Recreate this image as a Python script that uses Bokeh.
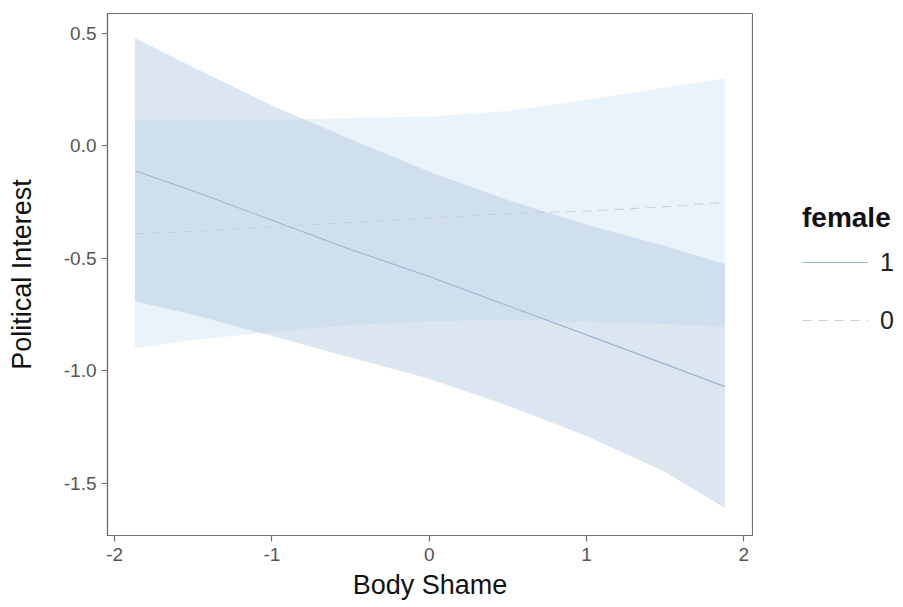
from bokeh.plotting import figure
from bokeh.layouts import row
from bokeh.models import Range1d, FixedTicker, PrintfTickFormatter, Legend, LegendItem
from bokeh.embed import file_html
from bokeh.resources import INLINE

# ---- data ----
body_shame = [-1.87, -1.5, -1.0, -0.5, 0.0, 0.5, 1.0, 1.5, 1.88]

fit_female1 = [-0.11, -0.20, -0.33, -0.46, -0.58, -0.71, -0.84, -0.97, -1.07]
upper_female1 = [0.48, 0.35, 0.18, 0.03, -0.115, -0.24, -0.35, -0.445, -0.525]
lower_female1 = [-0.69, -0.75, -0.845, -0.94, -1.035, -1.155, -1.29, -1.45, -1.61]

fit_female0 = [-0.39, -0.38, -0.36, -0.34, -0.32, -0.30, -0.29, -0.27, -0.25]
upper_female0 = [0.115, 0.115, 0.117, 0.124, 0.131, 0.155, 0.205, 0.26, 0.30]
lower_female0 = [-0.90, -0.863, -0.827, -0.796, -0.779, -0.774, -0.781, -0.792, -0.805]

x_ticks = [-2, -1, 0, 1, 2]
y_ticks = [-1.5, -1.0, -0.5, 0.0, 0.5]
legend_title = "female"
legend_labels = ["1", "0"]

FONT = "Liberation Sans"
GRAY = "#707070"
C1_LINE = "#9bb6d2"
C0_LINE = "#c6d1dc"

p = figure(width=753, height=607, output_backend="svg", toolbar_location=None,
           x_range=Range1d(-2.045, 2.055), y_range=Range1d(-1.732, 0.589),
           min_border_left=107, min_border_right=1, min_border_top=13,
           min_border_bottom=72)

p.background_fill_color = "white"
p.border_fill_color = "white"
p.outline_line_color = GRAY
p.outline_line_width = 1.2
p.xgrid.visible = False
p.ygrid.visible = False

# bands
p.varea(x=body_shame, y1=lower_female0, y2=upper_female0,
        fill_color="#cde1f2", fill_alpha=0.4)
p.varea(x=body_shame, y1=lower_female1, y2=upper_female1,
        fill_color="#a7c0dc", fill_alpha=0.4)

# fit lines
p.line(body_shame, fit_female1, line_color=C1_LINE, line_width=1.1)
p.line(body_shame, fit_female0, line_color=C0_LINE, line_width=1.1,
       line_dash="9 7")

# axes
for ax in (p.xaxis[0], p.yaxis[0]):
    ax.axis_line_color = GRAY
    ax.axis_line_width = 1.2
    ax.major_tick_line_color = GRAY
    ax.major_tick_line_width = 1.2
    ax.major_tick_out = 6
    ax.major_tick_in = 0
    ax.minor_tick_line_color = None
    ax.major_label_text_font = FONT
    ax.major_label_text_font_size = "19px"
    ax.major_label_text_color = "#555555"
    ax.axis_label_text_font = FONT
    ax.axis_label_text_font_size = "27px"
    ax.axis_label_text_font_style = "normal"
    ax.axis_label_text_color = "#111111"

p.xaxis[0].ticker = FixedTicker(ticks=x_ticks)
p.xaxis[0].formatter = PrintfTickFormatter(format="%d")
p.xaxis[0].axis_label = "Body Shame"
p.xaxis[0].major_label_standoff = 6
p.xaxis[0].axis_label_standoff = 6

p.yaxis[0].ticker = FixedTicker(ticks=y_ticks)
p.yaxis[0].formatter = PrintfTickFormatter(format="%.1f")
p.yaxis[0].axis_label = "Political Interest"
p.yaxis[0].major_label_standoff = 5
p.yaxis[0].axis_label_standoff = 24

# ---- legend panel (separate figure on the right) ----
q = figure(width=150, height=607, output_backend="svg", toolbar_location=None,
           x_range=Range1d(0, 1), y_range=Range1d(0, 1),
           min_border_left=0, min_border_right=0, min_border_top=0,
           min_border_bottom=0)
q.axis.visible = False
q.xgrid.visible = False
q.ygrid.visible = False
q.outline_line_color = None
q.background_fill_color = "white"
q.border_fill_color = "white"

# legend-key renderers, placed outside the visible range of the legend panel
k1 = q.line([5, 6], [5, 5], line_color=C1_LINE, line_width=1.1)
k0 = q.line([5, 6], [5, 5], line_color=C0_LINE, line_width=1.1, line_dash="9 7")

legend = Legend(items=[LegendItem(label=legend_labels[0], renderers=[k1]),
                       LegendItem(label=legend_labels[1], renderers=[k0])],
                title=legend_title, location=(49, 197))
legend.title_text_font = FONT
legend.title_text_font_size = "28px"
legend.title_text_font_style = "bold"
legend.title_text_color = "#111111"
legend.title_standoff = 10
legend.label_text_font = FONT
legend.label_text_font_size = "25px"
legend.label_text_color = "#222222"
legend.glyph_width = 66
legend.glyph_height = 36
legend.label_height = 36
legend.label_standoff = 12
legend.spacing = 22
legend.padding = 0
legend.margin = 0
legend.border_line_color = None
legend.background_fill_alpha = 0
q.add_layout(legend)

layout = row(p, q, spacing=0)
open("out.html", "w").write(file_html(layout, INLINE))
